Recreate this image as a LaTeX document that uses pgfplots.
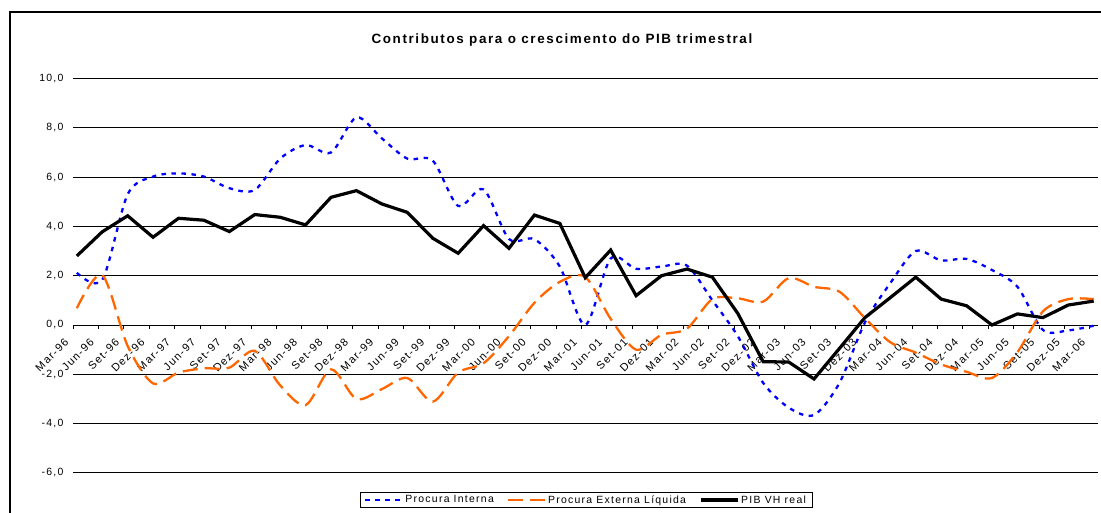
\documentclass[border=0pt]{standalone}
\usepackage{fontspec}
\setmainfont{Liberation Sans}[LetterSpace=12]
\usepackage{pgfplots}
\usepackage{pgfplotstable}
\pgfplotsset{compat=1.18}
\definecolor{blueline}{RGB}{0,0,255}
\definecolor{orangeline}{RGB}{255,102,0}

\pgfplotstableread{
i interna externa pib
0 2.12 0.68 2.80
1 1.83 2.03 3.78
2 5.30 -0.85 4.43
3 6.02 -2.37 3.56
4 6.15 -1.93 4.33
5 6.02 -1.76 4.25
6 5.55 -1.73 3.79
7 5.48 -1.05 4.48
8 6.75 -2.45 4.37
9 7.30 -3.25 4.06
10 7.00 -1.80 5.18
11 8.42 -3.00 5.45
12 7.57 -2.60 4.91
13 6.75 -2.15 4.57
14 6.67 -3.11 3.52
15 4.83 -1.93 2.91
16 5.50 -1.55 4.03
17 3.49 -0.45 3.11
18 3.48 0.90 4.46
19 2.37 1.75 4.12
20 0.00 1.95 1.92
21 2.70 0.25 3.04
22 2.28 -1.00 1.19
23 2.37 -0.40 2.00
24 2.41 -0.15 2.27
25 1.00 1.05 1.94
26 -0.45 1.08 0.47
27 -2.35 0.95 -1.49
28 -3.35 1.90 -1.50
29 -3.65 1.55 -2.19
30 -2.35 1.35 -0.95
31 0.10 0.28 0.30
32 1.70 -0.70 1.11
33 3.00 -1.12 1.94
34 2.62 -1.60 1.05
35 2.68 -1.90 0.78
36 2.23 -2.15 0.00
37 1.55 -1.10 0.45
38 -0.20 0.55 0.30
39 -0.22 1.05 0.81
40 -0.03 1.05 0.97
}\datatable

\begin{document}
\begin{tikzpicture}
\useasboundingbox (0,0) rectangle (1101bp,513bp);
\draw[line width=2bp] (10bp,501bp) rectangle (1130bp,-30bp);
\begin{axis}[
  at={(73bp,-1.8bp)}, anchor=south west,
  scale only axis, width=1025bp, height=436.3bp,
  xmin=0, xmax=40.32, ymin=-7.7, ymax=10,
  axis x line=middle, axis y line=left,
  axis line style={-},
  hide obscured x ticks=false,
  hide obscured y ticks=false,
  x axis line style={black, line width=0.8bp},
  y axis line style={draw=none},
  ytick={-6,-4,...,10},
  ymajorgrids,
  grid style={black, line width=0.8bp},
  ytick style={draw=none},
  xtick={0,...,40},
  xticklabels={Mar-96,Jun-96,Set-96,Dez-96,Mar-97,Jun-97,Set-97,Dez-97,Mar-98,Jun-98,Set-98,Dez-98,Mar-99,Jun-99,Set-99,Dez-99,Mar-00,Jun-00,Set-00,Dez-00,Mar-01,Jun-01,Set-01,Dez-01,Mar-02,Jun-02,Set-02,Dez-02,Mar-03,Jun-03,Set-03,Dez-03,Mar-04,Jun-04,Set-04,Dez-04,Mar-05,Jun-05,Set-05,Dez-05,Mar-06},
  xtick style={black, line width=0.8bp},
  tick align=outside,
  major tick length=4bp,
  xticklabel style={xshift=-4bp, yshift=-9bp, rotate=45, anchor=east, font=\fontsize{11}{13}\selectfont},
  yticklabel style={font=\fontsize{10.5}{12}\selectfont, xshift=-2bp, /pgf/number format/.cd, fixed, fixed zerofill, precision=1, use comma, assume math mode=true},
  title={\bfseries Contributos para o crescimento do PIB trimestral},
  title style={at={(0.477,1.0928)}, anchor=center, yshift=-8bp, font=\fontsize{13.5}{15}\selectfont},
  legend style={at={(0.5005,0.034)}, anchor=center, draw=black, line width=0.7bp, fill=white,
    font=\fontsize{10.5}{12}\selectfont, inner xsep=4bp, inner ysep=0.8bp,
    /tikz/every even column/.append style={column sep=11bp}},
  legend columns=3,
  legend image code/.code={\draw[#1] (0bp,0bp) -- (37bp,0bp);},
]
\addplot[blueline, line width=2.3bp, dash pattern=on 4.5bp off 5.5bp, smooth] table[x expr=\thisrow{i}+0.15, y=interna]{\datatable};
\addlegendentry{Procura Interna}
\addplot[orangeline, line width=2.3bp, dash pattern=on 15bp off 7bp, smooth] table[x expr=\thisrow{i}+0.15, y=externa]{\datatable};
\addlegendentry{Procura Externa Líquida}
\addplot[black, line width=3.2bp] table[x expr=\thisrow{i}+0.15, y=pib]{\datatable};
\addlegendentry{PIB VH real}
\end{axis}
\end{tikzpicture}
\end{document}
